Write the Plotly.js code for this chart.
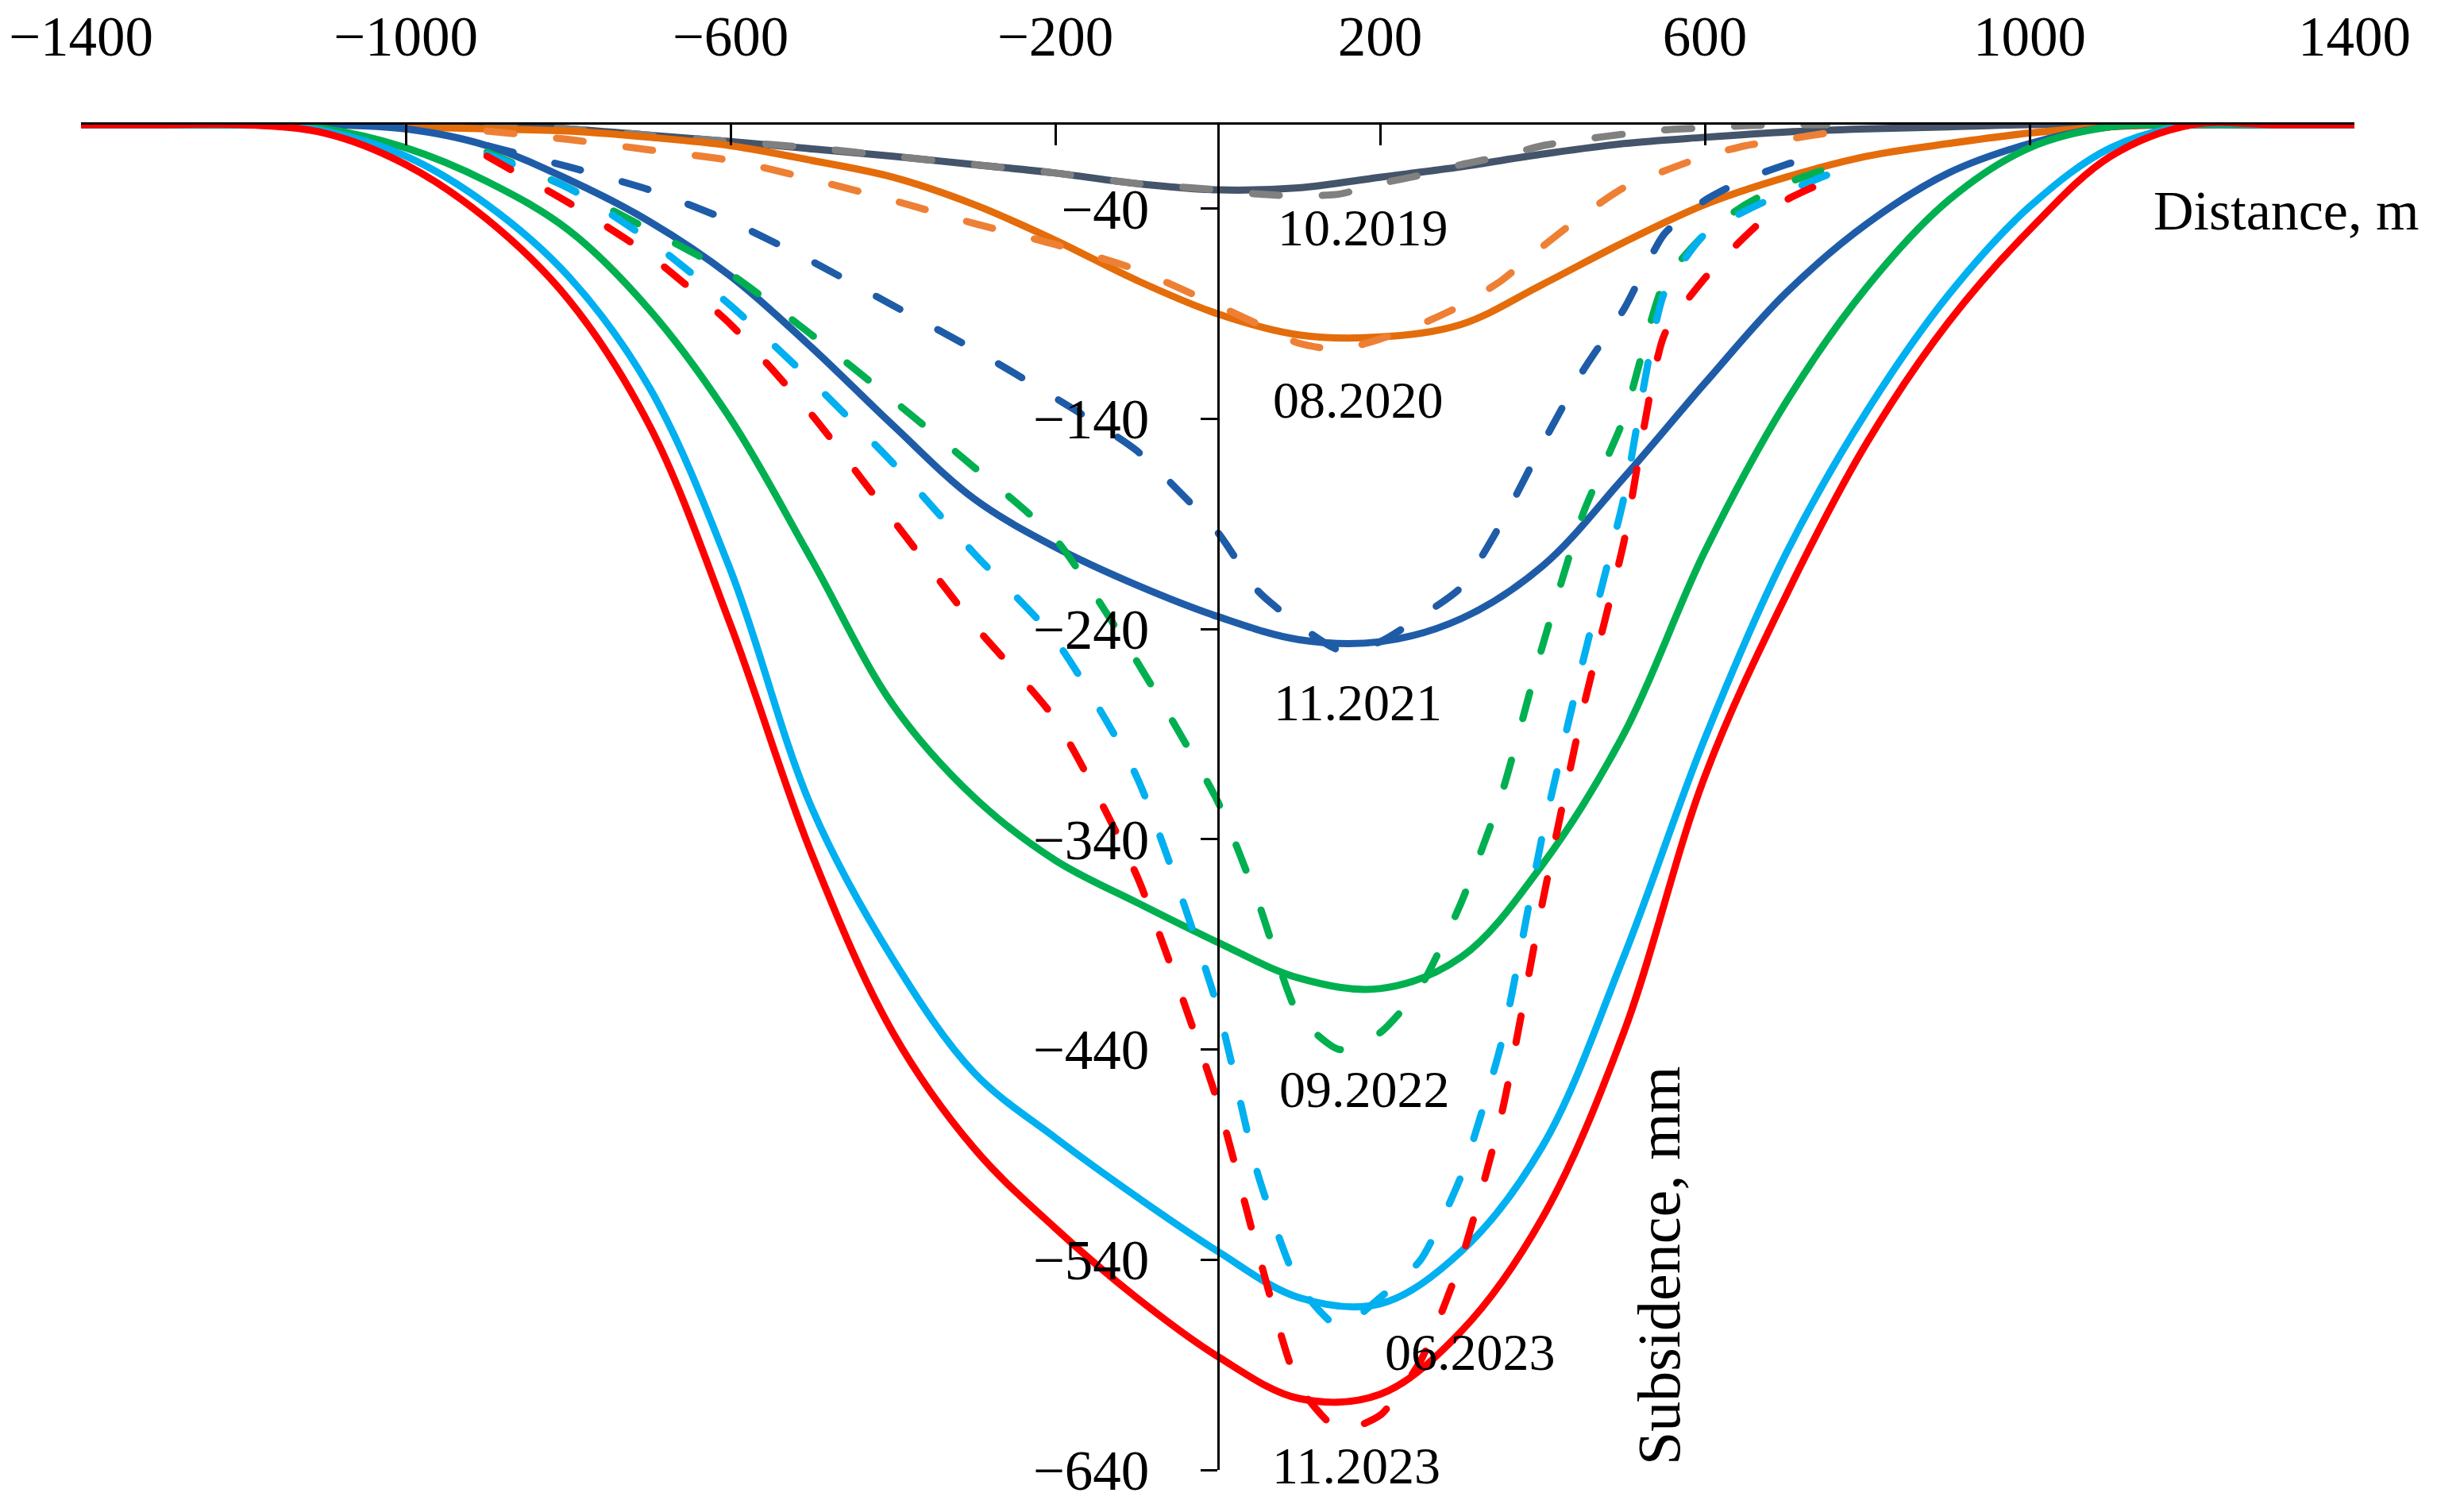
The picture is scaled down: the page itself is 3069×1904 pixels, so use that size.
<!DOCTYPE html>
<html>
<head>
<meta charset="utf-8">
<script src="https://cdn.plot.ly/plotly-3.0.1.min.js"></script>
<style>
  html, body { margin: 0; padding: 0; background: #fff; }
  #plot { width: 3069px; height: 1904px; }
  #plot .scatterlayer .js-line { stroke-linecap: round; stroke-linejoin: round; }
</style>
</head>
<body>
<div id="plot"></div>
<script>
// distance grid of the smooth (solid) profiles, m
const xSolid = [-1400, -1300, -1200, -1100, -1000, -900, -800, -700, -600, -500, -400, -300, -200, -100,
  0, 100, 200, 300, 400, 500, 600, 700, 800, 900, 1000, 1100, 1200, 1300, 1400];

// distance grid of the measured (dashed) profiles, m
const xDash = [-900, -800, -700, -600, -500, -400, -300, -200, -100, 0, 50, 100, 150, 200, 250,
  300, 350, 400, 450, 500, 550, 600, 650, 700, 750];

const epochs = ["10.2019", "08.2020", "11.2021", "09.2022", "06.2023", "11.2023"];

// subsidence, mm (solid curves)
const s2019 = [0, 0, 0, 0, 0, 0, -2, -5, -8, -11.5, -15, -19, -23, -28, -31, -30, -25, -20, -14, -9, -6, -3.5, -2, -1, 0, 0, 0, 0, 0];
const s2020 = [0, 0, 0, 0, -1, -2, -3, -6, -10, -17, -25, -38, -55, -74, -90, -100, -101, -95, -76, -56, -38, -25, -15, -9, -4, -1, 0, 0, 0];
const s2021 = [0, 0, 0, 0, -2, -10, -26, -46, -72, -106, -143, -178, -201, -219, -234, -245, -246, -235, -210, -168, -123, -80, -47, -23, -9, -1, 0, 0, 0];
const s2022 = [0, 0, 0, -2, -11, -27, -50, -88, -140, -207, -276, -320, -350, -370, -389, -406, -411, -396, -352, -290, -203, -132, -77, -36, -11, -1, 0, 0, 0];
const s2023a = [0, 0, 0, -3, -15, -38, -72, -125, -212, -325, -397, -451, -482, -510, -536, -558, -561, -536, -486, -396, -292, -204, -136, -81, -39, -11, 0, 0, 0];
const s2023b = [0, 0, 0, -4, -19, -45, -83, -143, -238, -347, -432, -487, -525, -558, -586, -606, -604, -574, -520, -432, -310, -224, -151, -94, -50, -15, 0, 0, 0];

// subsidence, mm (dashed curves)
const d2019 = [0, -2, -5, -8, -11, -15, -19, -23, -28, -31, -33, -34, -33, -28, -24, -19, -15, -10, -7, -4.5, -2.5, -1.5, -0.5, 0, 0];
const d2020 = [-3, -7, -12, -17, -26, -36, -47, -57, -69, -86, -95, -104, -107, -102, -95, -86, -74, -58, -43, -30, -22, -15, -10, -7, -4];
const d2021 = [-10, -20, -31, -46, -65, -86, -107, -130, -155, -194, -222, -238, -250, -246, -234, -220, -189, -152, -117, -88, -52, -36, -26, -19, -13];
const d2022 = [-13, -30, -50, -71, -100, -131, -163, -197, -255, -322, -370, -424, -440, -432, -410, -370, -318, -248, -185, -140, -75, -52, -38, -28, -21];
const d2023a = [-14, -30, -55, -86, -122, -161, -204, -245, -310, -420, -500, -552, -572, -558, -540, -500, -436, -338, -255, -178, -80, -52, -41, -32, -24];
const d2023b = [-15, -37, -62, -95, -138, -188, -238, -283, -357, -465, -537, -600, -621, -614, -588, -540, -470, -370, -278, -199, -100, -73, -53, -36, -27];

const solidSeries = [s2019, s2020, s2021, s2022, s2023a, s2023b];
const dashSeries = [d2019, d2020, d2021, d2022, d2023a, d2023b];
const solidColors = ["#44546A", "#E46C0A", "#1F5CA8", "#00B050", "#00B0F0", "#FF0000"];
const dashColors = ["#808080", "#EE8035", "#1F5CA8", "#00B050", "#00B0F0", "#FF0000"];

// label anchor positions (distance, subsidence)
const labelX = [179, 173, 173, 181, 311, 171];
const labelY = [-49, -131, -275, -459, -584, -638];

const font = "Liberation Serif, Times New Roman, serif";

const traces = [];
for (let i = 0; i < epochs.length; i++) {
  traces.push({
    x: xSolid, y: solidSeries[i], type: "scatter", mode: "lines",
    line: { color: solidColors[i], width: 9, shape: "spline", smoothing: 1 },
    name: epochs[i],
  });
  traces.push({
    x: xDash, y: dashSeries[i], type: "scatter", mode: "lines",
    line: { color: dashColors[i], width: 9, dash: "34px,54px", shape: "spline", smoothing: 0.6 },
    name: epochs[i] + " (measured)",
  });
}

const annotations = epochs.map((t, i) => ({
  x: labelX[i], y: labelY[i], xref: "x", yref: "y", text: t, showarrow: false,
  font: { family: font, size: 66, color: "#000" },
}));
annotations.push({
  x: 1.029, y: 0.96, xref: "paper", yref: "paper", xanchor: "right", text: "Distance, m",
  showarrow: false, font: { family: font, size: 70, color: "#000" },
});
annotations.push({
  x: 544, y: -543, xref: "x", yref: "y", text: "Subsidence, mm", textangle: -90,
  showarrow: false, font: { family: font, size: 76, color: "#000" },
});

Plotly.newPlot("plot", traces, {
  width: 3069,
  height: 1904,
  paper_bgcolor: "#fff",
  plot_bgcolor: "#fff",
  showlegend: false,
  margin: { l: 102, r: 104, t: 157, b: 53 },
  font: { family: font, size: 70, color: "#000" },
  xaxis: {
    range: [-1400, 1400], side: "top", tick0: -1400, dtick: 400,
    ticks: "inside", ticklen: 26, tickwidth: 3, tickcolor: "#000",
    showline: true, linecolor: "#000", linewidth: 3,
    showgrid: false, zeroline: false, ticklabelstandoff: 56,
    tickfont: { family: font, size: 71, color: "#000" },
  },
  yaxis: {
    range: [-640, 0], anchor: "free", position: 0.5, side: "left",
    tick0: -40, dtick: 100, ticks: "outside", ticklen: 21, tickwidth: 3, tickcolor: "#000",
    showline: true, linecolor: "#000", linewidth: 3,
    showgrid: false, zeroline: false, ticklabelstandoff: 50,
    tickfont: { family: font, size: 71, color: "#000" },
  },
  annotations: annotations,
}, { displayModeBar: false });
</script>
</body>
</html>
